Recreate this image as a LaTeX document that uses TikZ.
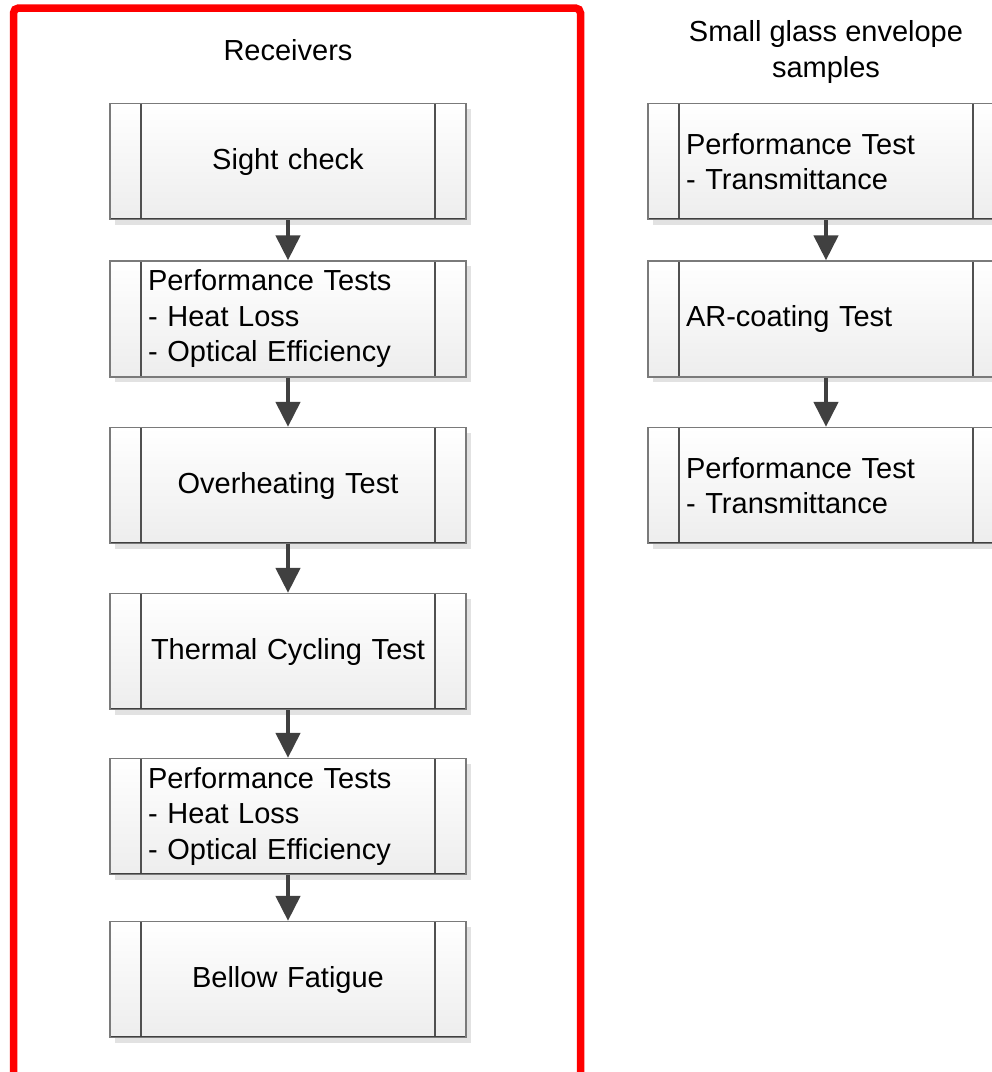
\documentclass[tikz,border=0pt]{standalone}
\usepackage{fontspec}
\setmainfont{Liberation Sans}
\usetikzlibrary{arrows.meta,shadows}
\definecolor{arrowgray}{HTML}{404040}
\definecolor{edgegray}{HTML}{7A7A7A}
\definecolor{linegray}{HTML}{505050}
\definecolor{shadowgray}{HTML}{E2E2E2}
\definecolor{framered}{HTML}{FF0000}
\tikzset{
  procbox/.style={
    rectangle, draw=edgegray, line width=1.3pt,
    top color=white, bottom color=black!7,
    minimum width=356pt, minimum height=116pt,
    text width=280pt, inner xsep=38pt, inner ysep=4pt,
    font=\fontsize{29}{35.5}\selectfont,
    drop shadow={shadow xshift=5pt, shadow yshift=-5pt, fill=shadowgray, opacity=1},
    path picture={
      \draw[linegray, line width=1.3pt]
        ([xshift=31pt]path picture bounding box.north west) --
        ([xshift=31pt]path picture bounding box.south west);
      \draw[linegray, line width=1.3pt]
        ([xshift=-31pt]path picture bounding box.north east) --
        ([xshift=-31pt]path picture bounding box.south east);
      \draw[arrowgray, line width=2.6pt]
        (path picture bounding box.south west) --
        (path picture bounding box.south east);
    }
  },
  centred/.style={align=center},
  lefted/.style={align=left},
  titletext/.style={font=\fontsize{29}{35.5}\selectfont, align=center, inner sep=0pt},
  flowarrow/.style={draw=arrowgray, line width=4.5pt,
    -{Triangle[width=24pt,length=25pt]}}
}
\begin{document}
\begin{tikzpicture}[x=1pt,y=-1pt]
\useasboundingbox (0,0) rectangle (992,1072);
\clip (0,0) rectangle (992,1072);
\fill[white] (0,0) rectangle (992,1072);
% red frame
\draw[framered, line width=7.5pt, rounded corners=5pt] (13.5,1090) -- (13.5,8) -- (580.5,8) -- (580.5,1090);
% titles
\node[titletext] (t1) at (288,50) {Receivers};
\node[titletext] (t2) at (826,52) {Small glass envelope\\samples};
% left column
\node[procbox, centred] (a1) at (288,161.5) {Sight check};
\node[procbox, lefted] (a2) at (288,319) {Performance Tests\\- Heat Loss\\- Optical Efficiency};
\node[procbox, centred] (a3) at (288,485.5) {Overheating Test};
\node[procbox, centred] (a4) at (288,651.5) {Thermal Cycling Test};
\node[procbox, lefted] (a5) at (288,816.5) {Performance Tests\\- Heat Loss\\- Optical Efficiency};
\node[procbox, centred] (a6) at (288,979.5) {Bellow Fatigue};
% right column
\node[procbox, lefted] (b1) at (826,161.5) {Performance Test\\- Transmittance};
\node[procbox, lefted] (b2) at (826,319) {AR-coating Test};
\node[procbox, lefted] (b3) at (826,485.5) {Performance Test\\- Transmittance};
% arrows
\draw[flowarrow] (a1.south) -- (a2.north);
\draw[flowarrow] (a2.south) -- (a3.north);
\draw[flowarrow] (a3.south) -- (a4.north);
\draw[flowarrow] (a4.south) -- (a5.north);
\draw[flowarrow] (a5.south) -- (a6.north);
\draw[flowarrow] (b1.south) -- (b2.north);
\draw[flowarrow] (b2.south) -- (b3.north);
\end{tikzpicture}
\end{document}
